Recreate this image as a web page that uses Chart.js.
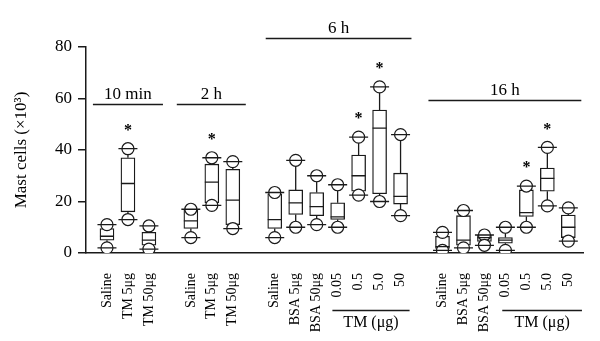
<!DOCTYPE html>
<html>
<head>
<meta charset="utf-8">
<script src="https://cdn.jsdelivr.net/npm/chart.js@4.4.0/dist/chart.umd.min.js"></script>
<style>
    html, body { margin: 0; padding: 0; background: #fff; }
    #wrap { width: 600px; height: 341px; }
</style>
</head>
<body>
<div id="wrap"><canvas id="mastCellGraph"></canvas></div>
<script>
// one slot per box, empty strings are the gaps between the time groups
var categories = ["Saline", "TM 5\u03bcg", "TM 50\u03bcg", "",
    "Saline", "TM 5\u03bcg", "TM 50\u03bcg", "",
    "Saline", "BSA 5\u03bcg", "BSA 50\u03bcg", "0.05", "0.5", "5.0", "50", "",
    "Saline", "BSA 5\u03bcg", "BSA 50\u03bcg", "0.05", "0.5", "5.0", "50"];
var maxValues = [11, 40.5, 10.5, null, 17, 37, 35.5, null, 23.5, 36, 30, 26.5, 45, 64.5, 46, null, 8, 16.5, 7, 10, 26, 41, 17.5];
var q3Values = [9.5, 37, 8, null, 17, 34.5, 32.5, null, 23, 24.5, 23.5, 19.5, 38, 55.5, 31, null, 6.5, 14.5, 7, 6, 24.5, 33, 14.7];
var medianValues = [6.5, 27, 5, null, 12.5, 27.5, 20.5, null, 13, 19.5, 18, 14, 30, 48.5, 22, null, 2.5, 5, 6, 5, 15.7, 29, 10];
var q1Values = [5, 16, 3, null, 9.5, 19.5, 11, null, 9.5, 15, 14.5, 13, 24, 23, 19, null, 1.8, 3, 4.5, 3.8, 14.2, 24, 6];
var minValues = [2, 13, 1.5, null, 6, 18.5, 9.5, null, 6, 10, 11, 10, 22.5, 20, 14.5, null, 1, 2, 3, 1, 10, 18.3, 4.6];
var significant = [false, true, false, false, false, true, false, false, false, false, false, false, true, true, false, false, false, false, false, false, true, true, false];
var yTicks = [0, 20, 40, 60, 80];

// group headers and dose brackets (slot ranges)
var timeGroups = [
    { label: "10 min", from: -0.67, to: 2.67, y: 58 },
    { label: "2 h", from: 3.33, to: 6.62, y: 58 },
    { label: "6 h", from: 7.57, to: 14.52, y: 83.5 },
    { label: "16 h", from: 15.33, to: 22.62, y: 59.5 },
];
var doseGroups = [
    { label: "TM (\u03bcg)", from: 10.75, to: 14.43 },
    { label: "TM (\u03bcg)", from: 18.85, to: 22.65 },
];

var ink = "#1a1a1a";
Chart.defaults.font.family = "'Liberation Serif', 'DejaVu Serif', serif";
Chart.defaults.color = "#000";

var boxData = [];
var circleData = [];
for (var i = 0; i < categories.length; i++) {
    if (medianValues[i] == null) continue;
    boxData.push({ x: i, y: [q1Values[i], q3Values[i]] });
    circleData.push({ x: i, y: maxValues[i] });
    circleData.push({ x: i, y: minValues[i] });
}

var boxPlotLines = {
    id: "boxPlotLines",
    beforeDatasetsDraw(chart) {
        var ctx = chart.ctx, x = chart.scales.x, y = chart.scales.y;
        ctx.save();
        ctx.strokeStyle = ink;
        ctx.lineWidth = 1.3;
        for (var i = 0; i < categories.length; i++) {
            if (medianValues[i] == null) continue;
            var px = x.getPixelForValue(i);
            ctx.beginPath();
            ctx.moveTo(px, y.getPixelForValue(q3Values[i]));
            ctx.lineTo(px, y.getPixelForValue(maxValues[i]));
            ctx.moveTo(px, y.getPixelForValue(q1Values[i]));
            ctx.lineTo(px, y.getPixelForValue(minValues[i]));
            ctx.stroke();
        }
        ctx.restore();
    },
    afterDatasetsDraw(chart) {
        var ctx = chart.ctx, x = chart.scales.x, y = chart.scales.y;
        ctx.save();
        ctx.strokeStyle = ink;
        ctx.lineWidth = 1.3;
        for (var i = 0; i < categories.length; i++) {
            if (medianValues[i] == null) continue;
            var px = x.getPixelForValue(i);
            var top = y.getPixelForValue(maxValues[i]);
            var bottom = y.getPixelForValue(minValues[i]);
            var mid = y.getPixelForValue(medianValues[i]);
            ctx.beginPath();
            ctx.moveTo(px - 9.5, top); ctx.lineTo(px + 9.5, top);
            ctx.moveTo(px - 9.5, bottom); ctx.lineTo(px + 9.5, bottom);
            ctx.moveTo(px - 7, mid); ctx.lineTo(px + 7, mid);
            ctx.stroke();
            if (significant[i]) {
                ctx.fillStyle = "#000";
                ctx.font = "bold 16px 'Liberation Serif'";
                ctx.textAlign = "center";
                ctx.textBaseline = "middle";
                ctx.fillText("*", px, top - 18);
            }
        }
        ctx.restore();
    },
    afterDraw(chart) {
        var ctx = chart.ctx, x = chart.scales.x, y = chart.scales.y;
        var area = chart.chartArea;
        ctx.save();
        ctx.strokeStyle = ink;
        ctx.fillStyle = "#000";
        ctx.lineWidth = 1.3;
        ctx.textAlign = "center";
        ctx.textBaseline = "alphabetic";
        ctx.font = "17px 'Liberation Serif'";
        for (var g of timeGroups) {
            var x1 = x.getPixelForValue(g.from), x2 = x.getPixelForValue(g.to);
            var py = Math.round(y.getPixelForValue(g.y)) + 0.5;
            ctx.beginPath();
            ctx.moveTo(x1, py); ctx.lineTo(x2, py);
            ctx.stroke();
            ctx.fillText(g.label, (x1 + x2) / 2, py - 6);
        }
        ctx.textBaseline = "middle";
        ctx.font = "16px 'Liberation Serif'";
        for (var d of doseGroups) {
            var x1 = x.getPixelForValue(d.from), x2 = x.getPixelForValue(d.to);
            var py = area.bottom + 57.5;
            ctx.beginPath();
            ctx.moveTo(x1, py); ctx.lineTo(x2, py);
            ctx.stroke();
            ctx.fillText(d.label, (x1 + x2) / 2, py + 12);
        }
        ctx.restore();
    },
};

var config = {
    type: "bar",
    data: {
        datasets: [
            {
                type: "scatter",
                data: circleData,
                pointStyle: "circle",
                pointRadius: 6,
                pointBackgroundColor: "#fff",
                pointBorderColor: ink,
                pointBorderWidth: 1.2,
                order: 0,
            },
            {
                type: "bar",
                data: boxData,
                backgroundColor: "#fff",
                borderColor: ink,
                borderWidth: 1.3,
                borderSkipped: false,
                barThickness: 14,
                order: 1,
            },
        ],
    },
    options: {
        responsive: true,
        maintainAspectRatio: false,
        animation: false,
        layout: { padding: { top: 47, right: 17, bottom: 0, left: 0 } },
        plugins: {
            legend: { display: false },
            tooltip: { enabled: false },
        },
        scales: {
            x: {
                type: "linear",
                min: -1,
                max: 22.7,
                offset: false,
                afterBuildTicks: (scale) => {
                    scale.ticks = categories.map((c, i) => ({ value: i }));
                },
                afterFit: (scale) => { scale.height = 88; },
                grid: { display: false },
                border: { display: true, color: ink, width: 1.5 },
                ticks: {
                    autoSkip: false,
                    maxRotation: 90,
                    minRotation: 90,
                    padding: 12,
                    font: { size: 14 },
                    callback: (value) => categories[value],
                },
            },
            y: {
                min: 0,
                max: 80,
                afterBuildTicks: (scale) => {
                    scale.ticks = yTicks.map((v) => ({ value: v }));
                },
                afterFit: (scale) => { scale.width = 86; },
                grid: { drawOnChartArea: false, drawTicks: true, tickLength: 8, color: ink, lineWidth: 1.5 },
                border: { display: true, color: ink, width: 1.5 },
                ticks: { padding: 6, font: { size: 17 } },
                title: {
                    display: true,
                    text: "Mast cells (\u00d710\u00b3)",
                    font: { size: 17 },
                    padding: { top: 11, bottom: 0 },
                },
            },
        },
    },
    plugins: [boxPlotLines],
};

var mastCellGraph = new Chart("mastCellGraph", config);
</script>
</body>
</html>
